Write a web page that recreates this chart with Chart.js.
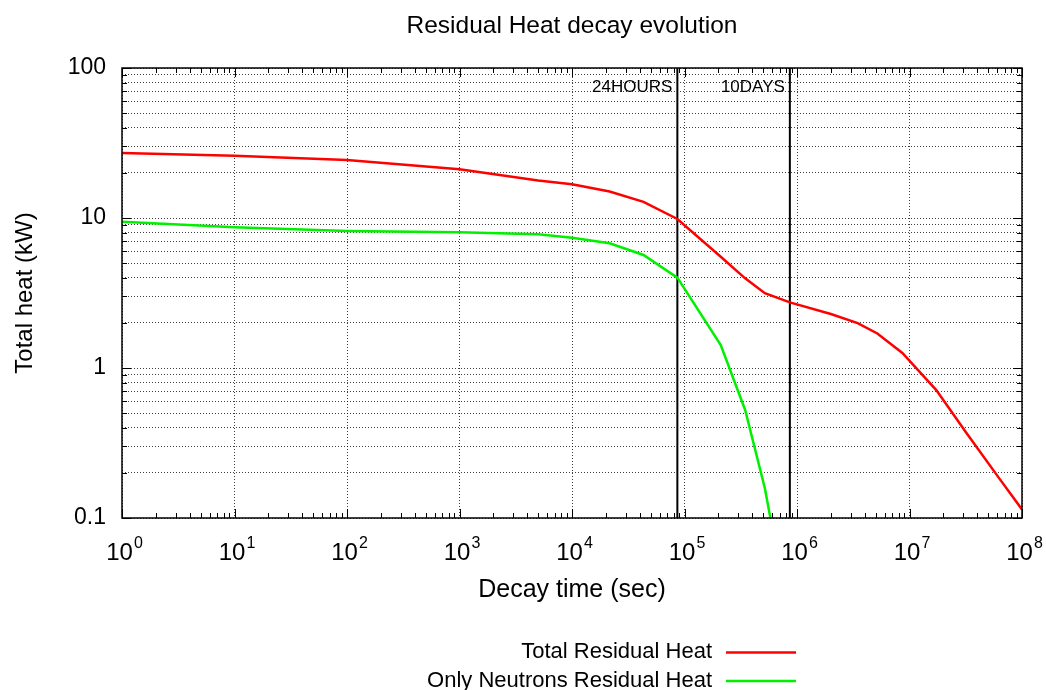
<!DOCTYPE html>
<html>
<head>
<meta charset="utf-8">
<script src="https://cdn.jsdelivr.net/npm/chart.js@4"></script>
<style>
	html, body { margin: 0; padding: 0; background: #fff; }
	#wrap { width: 1046px; height: 690px; }
</style>
</head>
<body>
<div id="wrap"><canvas id="chart"></canvas></div>
<script>
// decay times (sec) and heat values
const timeSec = [1, 10, 100, 1000, 5000, 1e4, 2.16e4, 4.32e4, 8.64e4, 2.1e5, 3.46e5, 5.18e5, 8.64e5,
	2e6, 3.46e6, 5.18e6, 8.64e6, 1.73e7, 3.15e7, 6.3e7, 1e8]
const totalHeat = [27.1, 26.0, 24.4, 21.1, 17.8, 16.8, 15.0, 12.8, 9.85, 5.52, 3.96, 3.15, 2.74,
	2.29, 1.99, 1.70, 1.26, 0.713, 0.376, 0.183, 0.114]
const neutronHeat = [9.44, 8.67, 8.2, 8.03, 7.79, 7.39, 6.78, 5.67, 4.0, 1.42, 0.525, 0.158, 0.02]

const markerTimes = [86400, 864000]
const markerLabels = ["24HOURS", "10DAYS"]

const xRange = [1, 1e8]
const yRange = [0.1, 100]

const FONT = "'Liberation Sans', Arial, Helvetica, sans-serif"

function logTicks(min, max) {
	let ticks = []
	for (let e = Math.round(Math.log10(min)); Math.pow(10, e) <= max; e++) {
		for (let s = 1; s < 10; s++) {
			let v = s * Math.pow(10, e)
			v = Math.round(v * 1e6) / 1e6
			if (v > max) break
			ticks.push(v)
			if (Math.pow(10, e) === max) break
		}
	}
	return ticks
}

function isDecade(v) {
	let l = Math.log10(v)
	return Math.abs(l - Math.round(l)) < 1e-9
}

function toPoints(xs, ys) {
	return ys.map((y, i) => ({x: xs[i], y}))
}

const datasets = [
	{label: "Total Residual Heat", data: toPoints(timeSec, totalHeat), borderColor: "#ff0000"},
	{label: "Only Neutrons Residual Heat", data: toPoints(timeSec, neutronHeat), borderColor: "#00f000"}
]
markerTimes.forEach((t, i) => {
	datasets.push({
		label: markerLabels[i],
		marker: true,
		data: [{x: t, y: yRange[0]}, {x: t, y: yRange[1]}],
		borderColor: "#000",
		borderWidth: 2
	})
})
datasets.forEach(ds => {
	ds.pointRadius = 0
	ds.tension = 0
	ds.fill = false
	if (!ds.borderWidth) ds.borderWidth = 2.5
})

const decorPlugin = {
	id: "decor",
	afterDraw(chart) {
		const ctx = chart.ctx
		const area = chart.chartArea
		const xs = chart.scales.x
		const ys = chart.scales.y
		ctx.save()
		ctx.strokeStyle = "#000"
		ctx.lineWidth = 1

		// inward (mirrored) tick marks
		ctx.beginPath()
		for (let v of logTicks(xRange[0], xRange[1])) {
			let px = Math.round(xs.getPixelForValue(v)) + 0.5
			let len = isDecade(v) ? 9 : 5
			ctx.moveTo(px, area.bottom); ctx.lineTo(px, area.bottom - len)
			ctx.moveTo(px, area.top); ctx.lineTo(px, area.top + len)
		}
		for (let v of logTicks(yRange[0], yRange[1])) {
			let py = Math.round(ys.getPixelForValue(v)) + 0.5
			let len = isDecade(v) ? 9 : 5
			ctx.moveTo(area.left, py); ctx.lineTo(area.left + len, py)
			ctx.moveTo(area.right, py); ctx.lineTo(area.right - len, py)
		}
		ctx.stroke()

		// frame
		ctx.lineWidth = 1.5
		ctx.strokeRect(area.left, area.top, area.right - area.left, area.bottom - area.top)

		// x tick labels 10^n
		ctx.fillStyle = "#000"
		ctx.textBaseline = "alphabetic"
		ctx.textAlign = "left"
		for (let e = 0; Math.pow(10, e) <= xRange[1]; e++) {
			let px = xs.getPixelForValue(Math.pow(10, e))
			ctx.font = "24px " + FONT
			let wBase = ctx.measureText("10").width
			ctx.font = "16px " + FONT
			let wExp = ctx.measureText(String(e)).width
			let x0 = px - (wBase + wExp) / 2 + 2
			ctx.font = "24px " + FONT
			ctx.fillText("10", x0, 560)
			ctx.font = "16px " + FONT
			ctx.fillText(String(e), x0 + wBase + 1, 548)
		}

		// marker labels
		ctx.font = "17px " + FONT
		ctx.textAlign = "right"
		markerTimes.forEach((t, i) => {
			let px = xs.getPixelForValue(t)
			ctx.fillText(markerLabels[i], px - 5, 92)
		})

		// legend, sample line right of the text
		ctx.font = "22px " + FONT
		ctx.textBaseline = "middle"
		chart.data.datasets.filter(ds => !ds.marker).forEach((ds, i) => {
			let y = 652 + i * 28.5
			ctx.fillStyle = "#000"
			ctx.fillText(ds.label, 712, y)
			ctx.strokeStyle = ds.borderColor
			ctx.lineWidth = 2.5
			ctx.beginPath()
			ctx.moveTo(726, y + 0.5)
			ctx.lineTo(796, y + 0.5)
			ctx.stroke()
		})
		ctx.restore()
	}
}

const chartCtx = document.getElementById("chart").getContext("2d")
let chart = new Chart(chartCtx, {
	type: "line",
	data: {datasets},
	plugins: [decorPlugin],
	options: {
		responsive: true,
		maintainAspectRatio: false,
		animation: false,
		layout: {padding: {top: 0, right: 24, bottom: 80, left: 0}},
		plugins: {
			legend: {display: false},
			tooltip: {enabled: false},
			title: {
				display: true,
				fullSize: false,
				text: "Residual Heat decay evolution",
				color: "#000",
				font: {family: FONT, size: 24.5, weight: "normal"},
				padding: {top: 12, bottom: 26.6}
			}
		},
		scales: {
			x: {
				type: "logarithmic",
				min: xRange[0],
				max: xRange[1],
				afterFit: scale => { scale.height = 92 },
				afterBuildTicks: scale => { scale.ticks = logTicks(xRange[0], xRange[1]).map(value => ({value})) },
				ticks: {display: false, autoSkip: false},
				grid: {
					drawTicks: false,
					lineWidth: 1,
					color: c => (c.tick && isDecade(c.tick.value) ? "rgba(0,0,0,0.75)" : "rgba(0,0,0,0)")
				},
				border: {display: false, dash: [1, 2]},
				title: {
					display: true,
					text: "Decay time (sec)",
					color: "#000",
					font: {family: FONT, size: 25},
					padding: {top: 0, bottom: 5}
				}
			},
			y: {
				type: "logarithmic",
				min: yRange[0],
				max: yRange[1],
				afterFit: scale => { scale.width = 122 },
				afterBuildTicks: scale => { scale.ticks = logTicks(yRange[0], yRange[1]).map(value => ({value})) },
				ticks: {
					autoSkip: false,
					padding: 16,
					color: "#000",
					font: {family: FONT, size: 23},
					callback: v => (isDecade(v) ? String(v) : "")
				},
				grid: {drawTicks: false, lineWidth: 1, color: "rgba(0,0,0,0.75)"},
				border: {display: false, dash: [1, 2]},
				title: {
					display: true,
					text: "Total heat (kW)",
					color: "#000",
					font: {family: FONT, size: 24},
					padding: {top: 10.6, bottom: 0}
				}
			}
		}
	}
})
</script>
</body>
</html>
